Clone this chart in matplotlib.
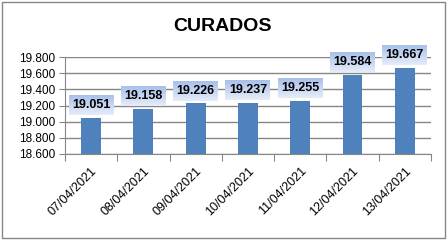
import matplotlib.pyplot as plt
import matplotlib.colors as mcolors
from matplotlib.patches import Rectangle
import numpy as np

plt.rcParams['font.family'] = ['Liberation Sans', 'DejaVu Sans']

dates = ['07/04/2021', '08/04/2021', '09/04/2021', '10/04/2021',
         '11/04/2021', '12/04/2021', '13/04/2021']
values = [19.051, 19.158, 19.226, 19.237, 19.255, 19.584, 19.667]
yticks = [18.6, 18.8, 19.0, 19.2, 19.4, 19.6, 19.8]

grid_color = '#868686'
bar_color = '#4f81bd'

fig = plt.figure(figsize=(4.47, 2.41), dpi=100)
ax = fig.add_axes([0.1454, 0.361, 0.8186, 0.402])

x = np.arange(len(values))
ax.bar(x, values, width=0.38, color=bar_color, zorder=2)

ax.set_xlim(-0.5, len(values) - 0.5)
ax.set_ylim(18.6, 19.8)
ax.set_yticks(yticks)
ax.set_yticklabels([f'{v:.3f}'.replace('.', '.') for v in yticks], fontsize=8.5)
ax.yaxis.grid(True, color=grid_color, linewidth=1, zorder=0)
ax.set_axisbelow(True)

# category boundaries as tick marks
ax.set_xticks(np.arange(-0.5, len(values), 1.0))
ax.set_xticklabels([])
ax.set_xticks(x, minor=True)
ax.set_xticklabels(dates, minor=True, rotation=45, ha='right',
                   rotation_mode='anchor', fontsize=9)
ax.tick_params(axis='x', which='major', length=5, color=grid_color, direction='out')
ax.tick_params(axis='x', which='minor', length=0, pad=8)
ax.tick_params(axis='y', length=4, color=grid_color, pad=3)

for side in ['top', 'right']:
    ax.spines[side].set_visible(False)
for side in ['left', 'bottom']:
    ax.spines[side].set_color(grid_color)

# data labels with a gradient box
grad = mcolors.LinearSegmentedColormap.from_list('lbl', ['#e6edf9', '#a8c0ea'])
g = np.linspace(0, 1, 50).reshape(-1, 1)
box_w, box_h, gap = 0.86, 0.245, 0.035
for xi, v in zip(x, values):
    y0 = v + gap
    ax.imshow(g, cmap=grad, origin='lower', aspect='auto',
              extent=[xi - box_w / 2, xi + box_w / 2, y0, y0 + box_h],
              clip_on=False, zorder=3, interpolation='bilinear')
    ax.text(xi, y0 + box_h / 2, f'{v:.3f}', ha='center', va='center',
            fontsize=9, fontweight='bold', zorder=4, clip_on=False)

ax.set_xlim(-0.5, len(values) - 0.5)
ax.set_ylim(18.6, 19.8)

fig.text(0.497, 0.888, 'CURADOS', ha='center', va='center',
         fontsize=14, fontweight='bold')

fig.patches.append(Rectangle((0.004, 0.013), 0.991, 0.98, transform=fig.transFigure,
                             fill=False, edgecolor=grid_color, linewidth=1))

fig.savefig('out.png', dpi=100)
